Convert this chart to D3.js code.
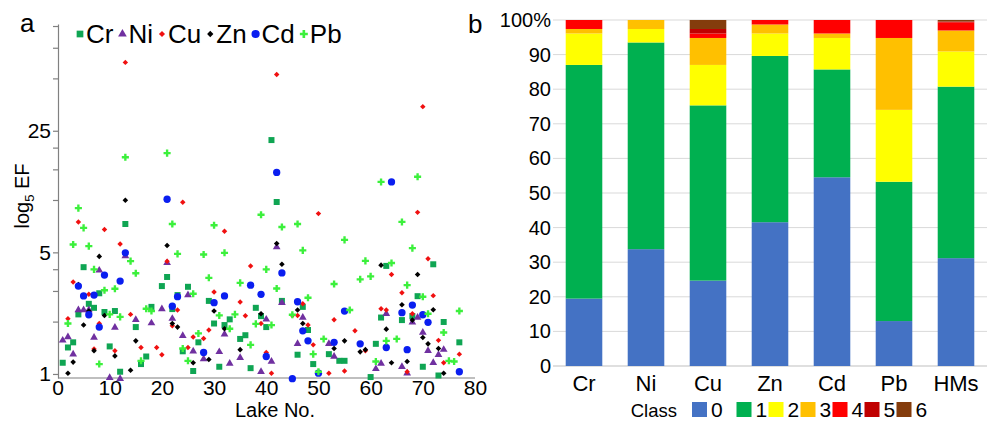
<!DOCTYPE html>
<html><head><meta charset="utf-8">
<script src="https://cdn.jsdelivr.net/npm/d3@7"></script>
<style>
body{margin:0;background:#fff}
svg text{font-family:"Liberation Sans",Arial,Helvetica,sans-serif;fill:#000}
</style>
</head><body>
<svg id="c" width="987" height="422"></svg>
<script>
// ---------- DATA: panel a (EF per lake, log5 axis) ----------
const lakeTicks = [0,10,20,30,40,50,60,70,80];
const efTicks = [1,5,25];
const efMinorTicks = [2,3,4,10,15,20,50,75,100];
const metals = ["Cr","Ni","Cu","Zn","Cd","Pb"];

const crEF = [[1,1.16],[2,1.42],[3,1.52],[4,2.20],[5,4.11],[6,2.53],[7,2.40],[8,2.91],[9,2.27],[10,1.44],[11,2.30],[12,1.03],[13,7.28],[15,1.86],[16,1.14],[17,1.26],[18,2.43],[20,3.20],[21,3.61],[22,2.36],[23,2.84],[24,1.35],[25,3.17],[26,1.04],[27,1.52],[29,2.63],[30,1.95],[31,1.10],[32,1.91],[33,2.06],[35,1.59],[36,1.67],[37,1.08],[38,2.40],[39,2.15],[40,1.86],[41,22.1],[42,9.74],[43,2.63],[46,1.29],[47,2.43],[48,1.79],[49,1.14],[52,1.30],[54,1.19],[55,1.19],[60,0.96],[61,1.49],[62,2.11],[63,4.18],[66,2.04],[68,2.15],[69,2.80],[70,1.10],[72,4.27],[73,0.98],[74,1.99],[77,1.52]];
const niEF = [[1,1.56],[2,1.63],[3,1.30],[4,2.33],[5,2.33],[6,2.33],[7,1.62],[8,3.94],[10,0.95],[11,1.85],[12,0.94],[13,4.76],[15,2.05],[18,1.96],[20,2.36],[21,4.35],[22,2.08],[24,1.66],[25,2.84],[26,1.35],[28,1.22],[31,1.34],[32,1.69],[33,1.15],[35,1.24],[39,1.03],[40,2.06],[41,1.18],[42,5.36],[43,2.57],[46,1.49],[47,2.11],[52,1.49],[53,1.26],[61,1.07],[62,1.15],[63,2.22],[66,1.10],[67,1.01],[68,1.98],[69,2.11],[70,1.73],[71,1.36],[72,1.16],[73,1.29],[74,1.38]];
const cuEF = [[2,2.08],[3,3.38],[4,7.48],[6,2.87],[7,1.39],[8,1.95],[9,6.76],[11,1.36],[12,5.59],[13,61.8],[14,2.20],[16,1.42],[19,1.42],[20,1.29],[21,4.45],[22,1.89],[23,2.33],[24,9.71],[25,1.42],[26,1.63],[28,1.60],[29,1.79],[30,2.96],[32,6.61],[35,2.59],[36,2.16],[37,4.17],[39,1.95],[40,1.33],[41,1.01],[42,52.6],[45,2.17],[46,2.17],[47,2.53],[48,1.91],[49,1.47],[50,8.35],[52,1.01],[53,2.05],[55,1.04],[57,1.77],[59,1.36],[62,2.37],[63,2.33],[64,3.73],[66,2.93],[67,1.03],[68,2.22],[69,8.49],[70,34.4],[71,4.59],[72,2.82],[73,1.56],[74,1.16],[77,1.30]];
const znEF = [[2,1.01],[3,1.17],[4,3.27],[5,1.91],[6,2.30],[7,1.36],[8,4.74],[9,2.17],[11,1.27],[13,9.96],[14,1.05],[15,1.55],[21,5.47],[22,1.95],[23,1.86],[26,1.16],[29,1.21],[30,2.30],[32,1.82],[35,1.38],[39,2.22],[42,5.62],[43,4.27],[46,2.33],[47,1.95],[53,1.40],[55,1.55],[58,1.34],[59,1.38],[62,4.22],[63,1.81],[64,1.16],[66,2.50],[67,1.18],[68,2.04],[69,3.73],[70,1.62],[71,1.49],[72,2.34],[73,1.40],[74,1.01]];
const cdEF = [[4,3.20],[5,2.81],[6,2.19],[7,2.84],[8,1.86],[9,3.70],[12,3.42],[13,4.97],[21,10.1],[22,2.45],[23,2.78],[28,1.33],[30,2.57],[32,2.81],[37,3.24],[39,2.87],[40,1.26],[42,14.4],[43,3.81],[45,0.94],[46,2.60],[47,1.77],[48,1.55],[50,1.01],[53,1.52],[55,2.30],[58,1.49],[63,1.42],[64,12.7],[66,2.25],[67,1.38],[68,2.49],[70,2.19],[71,1.98],[77,1.03]];
const pbEF = [[2,1.95],[3,5.55],[4,8.98],[5,6.91],[6,5.43],[7,3.99],[8,1.14],[9,3.03],[10,2.20],[11,3.09],[12,2.13],[13,17.6],[14,4.45],[15,3.79],[16,1.19],[17,2.37],[18,2.30],[21,18.6],[22,7.28],[23,4.90],[24,1.40],[25,1.19],[26,2.89],[27,1.71],[28,4.86],[29,3.57],[30,7.16],[31,2.17],[32,4.97],[33,1.82],[34,2.20],[35,3.34],[37,1.47],[38,1.94],[39,8.23],[40,3.99],[41,1.91],[42,3.10],[43,6.99],[45,2.19],[46,7.28],[47,5.13],[48,2.74],[49,1.30],[50,1.03],[51,1.59],[53,3.29],[55,5.90],[56,2.33],[58,3.50],[59,4.47],[60,3.64],[61,1.18],[62,12.7],[63,1.55],[64,4.34],[65,1.59],[66,7.48],[67,3.24],[68,5.29],[69,13.6],[70,2.78],[71,2.22],[74,1.73],[75,1.19],[76,1.18],[77,2.30]];

// ---------- DATA: panel b (number of lakes per EF class) ----------
const barCategories = ["Cr","Ni","Cu","Zn","Cd","Pb","HMs"];
const classNames = ["0","1","2","3","4","5","6"];
const class0 = [15,26,19,32,42,10,144];
const class1 = [52,46,39,37,24,31,229];
const class2 = [7,3,9,5,7,16,47];
const class3 = [1,2,6,2,1,16,28];
const class4 = [2,0,1,1,3,4,11];
const class5 = [0,0,1,0,0,0,1];
const class6 = [0,0,2,0,0,0,2];
const barTicks = [0,10,20,30,40,50,60,70,80,90,100];

// ---------- STYLE ----------
const seriesStyle = {
  Cr:{sym:d3.symbolSquare, size:36, color:"#0FA553"},
  Ni:{sym:d3.symbolTriangle, size:26, color:"#7030A0"},
  Cu:{sym:d3.symbolDiamond2, size:19, color:"#F01010"},
  Zn:{sym:d3.symbolDiamond2, size:20, color:"#000000"},
  Cd:{sym:d3.symbolCircle, size:42, color:"#0A1EF0"},
  Pb:{sym:d3.symbolCross, size:28, color:"#3CF03C"}
};
const classColors = ["#4472C4","#00B050","#FFFF00","#FFC000","#FF0000","#C00000","#843C0C"];

const svg = d3.select("#c");

// ================= PANEL A =================
const xA = d3.scaleLinear().domain([0,80]).range([57.5,475]);
const yA = d3.scaleLog().base(5).domain([0.948,102.7]).range([378,24]);

const gA = svg.append("g");
const yAxisA = d3.axisLeft(yA)
  .tickValues(efTicks.concat(efMinorTicks))
  .tickFormat(d => efTicks.includes(d) ? d : "")
  .tickSize(5).tickSizeOuter(0).tickPadding(2);
const yg = gA.append("g").attr("transform","translate(58,0)").call(yAxisA);
yg.selectAll("path,line").attr("stroke","#808080").attr("stroke-width",1.2);
yg.selectAll("text").style("font-size","21px").attr("fill","#000");

const xAxisA = d3.axisBottom(xA).tickValues(lakeTicks).tickSize(0).tickSizeOuter(0).tickPadding(2);
const xg = gA.append("g").attr("transform","translate(0,378)").call(xAxisA);
xg.select("path").attr("d","M58,0H475").attr("stroke","#808080").attr("stroke-width",1.2);
xg.selectAll("text").style("font-size","21px").attr("fill","#000");

gA.append("text").attr("x",275).attr("y",417).attr("text-anchor","middle")
  .style("font-size","20px").text("Lake No.");

const yl = gA.append("text").attr("transform","translate(29,196) rotate(-90)")
  .attr("text-anchor","middle").style("font-size","20px");
yl.append("tspan").text("log");
yl.append("tspan").attr("dy",5).style("font-size","13px").text("5");
yl.append("tspan").attr("dy",-5).text(" EF");

gA.append("text").attr("x",20).attr("y",32).style("font-size","26px").text("a");

const seriesData = {Cr:crEF, Ni:niEF, Cu:cuEF, Zn:znEF, Cd:cdEF, Pb:pbEF};
metals.forEach(m => {
  const st = seriesStyle[m];
  gA.append("g").selectAll("path").data(seriesData[m]).join("path")
    .attr("transform", d => `translate(${xA(d[0])},${yA(d[1])})`)
    .attr("d", d3.symbol().type(st.sym).size(st.size))
    .attr("fill", st.color);
});

// legend a
const legA = gA.append("g");
let cx = 80;
metals.forEach((m,i) => {
  const st = seriesStyle[m];
  legA.append("path").attr("transform",`translate(${cx},34)`)
    .attr("d", d3.symbol().type(st.sym).size(st.size*1.25)).attr("fill",st.color);
  const t = legA.append("text").attr("x",cx+6).attr("y",43).style("font-size","26px").text(m);
  const w = t.node().getComputedTextLength();
  cx = cx + 6 + w + 9;
});

// ================= PANEL B =================
const rows = barCategories.map((c,i) => ({
  cat:c, "0":class0[i], "1":class1[i], "2":class2[i], "3":class3[i],
  "4":class4[i], "5":class5[i], "6":class6[i]
}));
const stacked = d3.stack().keys(classNames).offset(d3.stackOffsetExpand)(rows);

const xB = d3.scaleBand().domain(barCategories).range([553,987]).paddingInner(0.41).paddingOuter(0.205);
const yB = d3.scaleLinear().domain([0,100]).range([366,20]);

const gB = svg.append("g");
gB.append("g").selectAll("line").data(barTicks.filter(d=>d>0)).join("line")
  .attr("x1",553).attr("x2",987).attr("y1",d=>yB(d)).attr("y2",d=>yB(d))
  .attr("stroke","#d9d9d9").attr("stroke-width",1);
gB.append("line").attr("x1",553).attr("x2",987).attr("y1",yB(0)).attr("y2",yB(0))
  .attr("stroke","#bfbfbf").attr("stroke-width",1);

const yAxisB = d3.axisLeft(yB).tickValues(barTicks)
  .tickFormat(d => d===100 ? "100%" : d).tickSize(0).tickPadding(2);
const ygB = gB.append("g").attr("transform","translate(553,0)").call(yAxisB);
ygB.select("path").remove();
ygB.selectAll("text").style("font-size","20px").attr("fill","#000");

stacked.forEach((layer,k) => {
  gB.append("g").selectAll("rect").data(layer).join("rect")
    .attr("x", d => xB(d.data.cat))
    .attr("width", xB.bandwidth())
    .attr("y", d => yB(d[1]*100))
    .attr("height", d => yB(d[0]*100) - yB(d[1]*100))
    .attr("fill", classColors[k]);
});

gB.append("g").selectAll("text").data(barCategories).join("text")
  .attr("x", d => xB(d) + xB.bandwidth()/2).attr("y",391)
  .attr("text-anchor","middle").style("font-size","22px").text(d=>d);

gB.append("text").attr("x",468).attr("y",33).style("font-size","26px").text("b");

// legend b
const legB = gB.append("g");
legB.append("text").attr("x",677).attr("y",417).attr("text-anchor","end")
  .style("font-size","18.5px").text("Class");
classNames.forEach((c,i) => {
  const x = 692 + i*32 + (i>0 ? 12.5 : 0);
  legB.append("rect").attr("x",x).attr("y",402).attr("width",15).attr("height",15)
    .attr("fill",classColors[i]);
  legB.append("text").attr("x",x+19).attr("y",417).style("font-size","21px").text(c);
});
</script>
</body></html>
